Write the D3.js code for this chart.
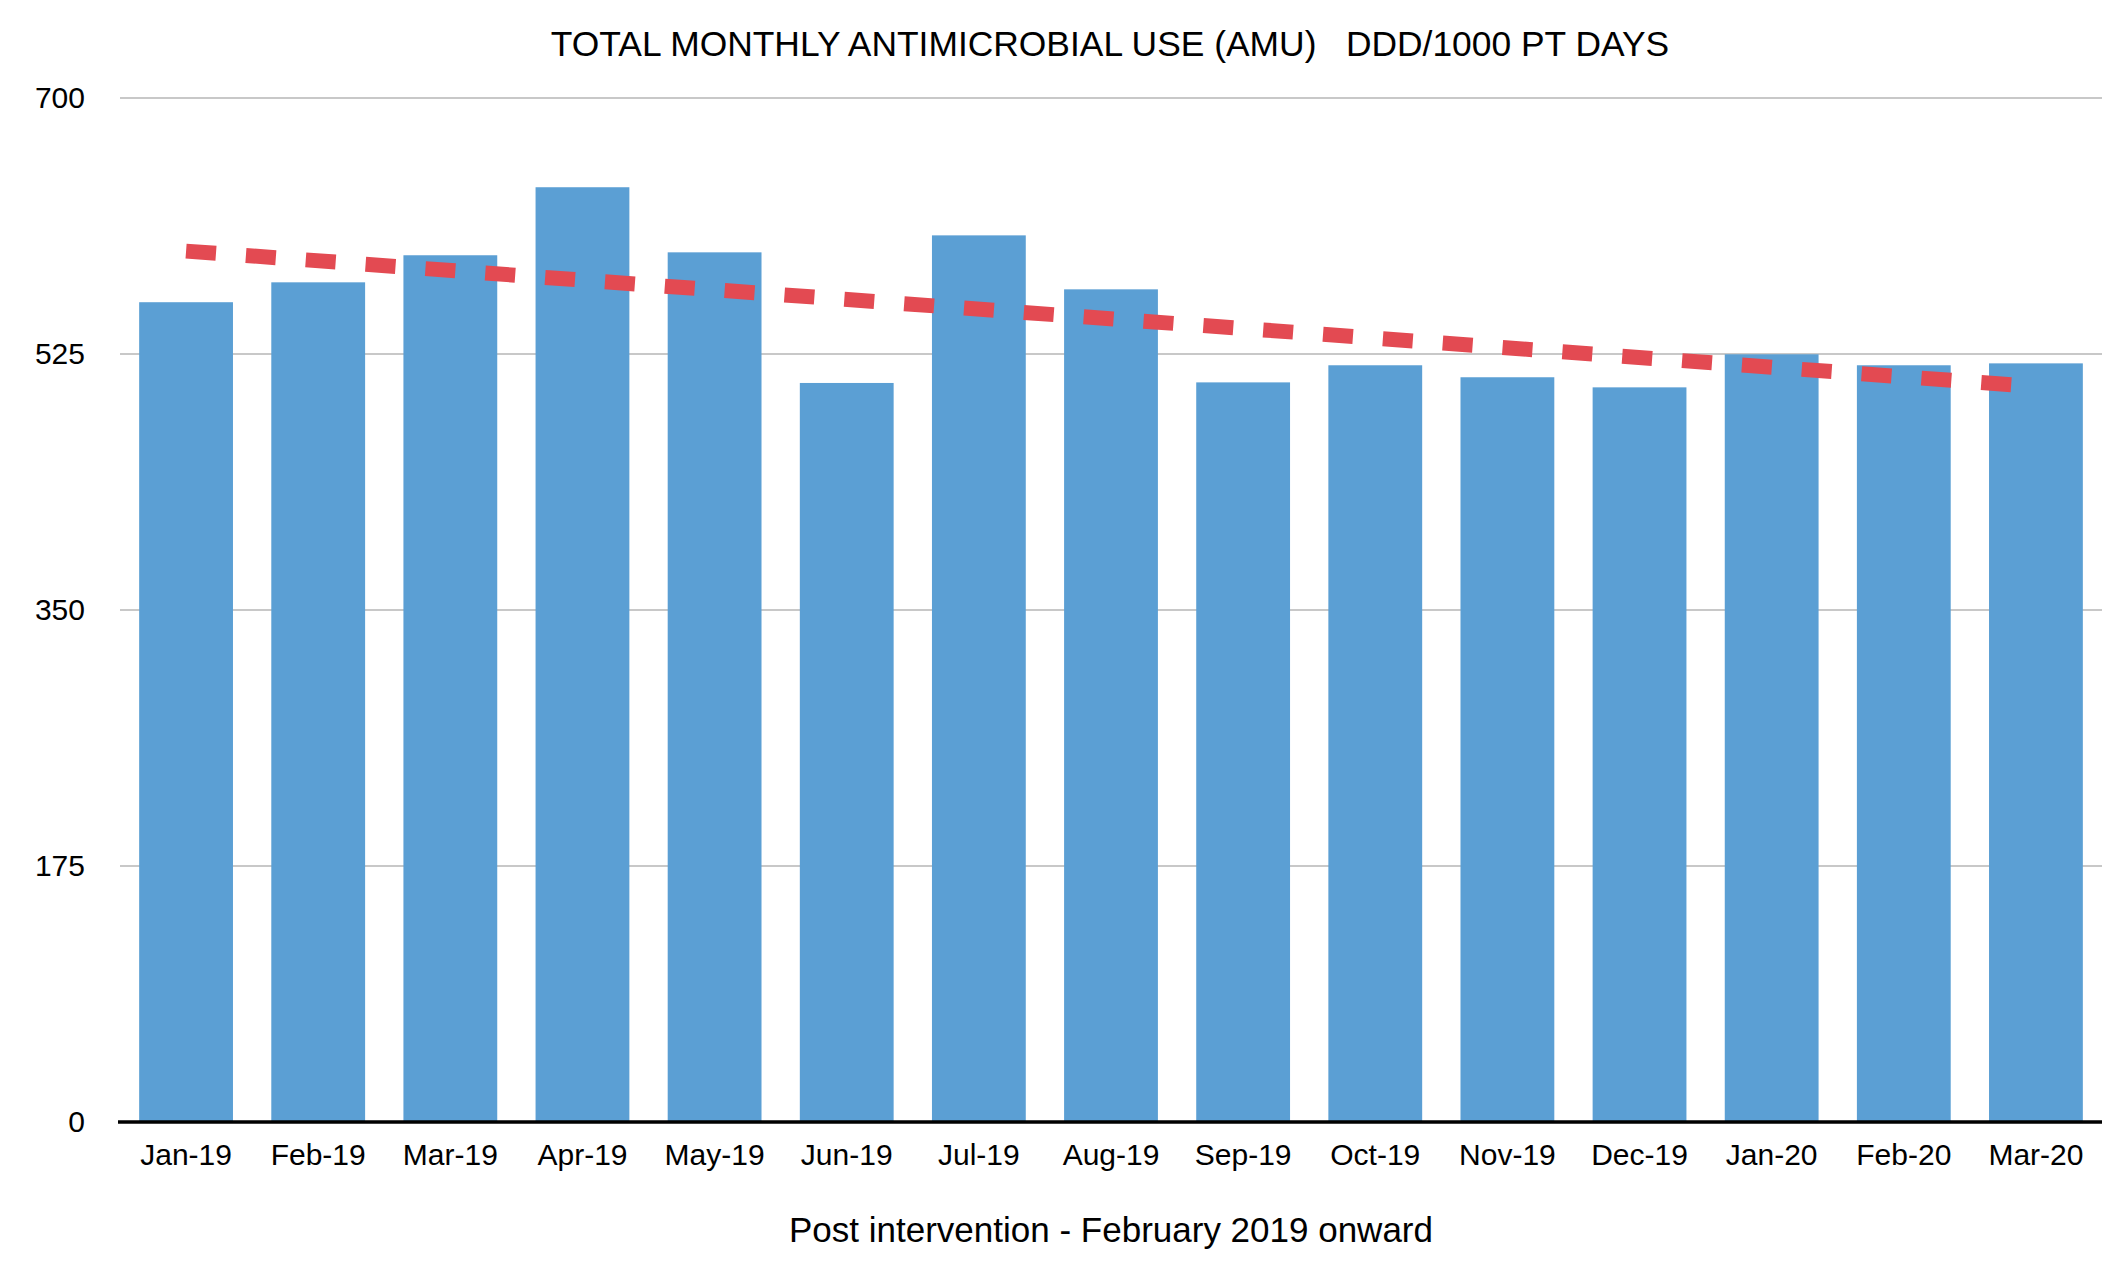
<!DOCTYPE html>
<html>
<head>
<meta charset="utf-8">
<script src="https://cdn.jsdelivr.net/npm/d3@7"></script>
<style>
  body { margin: 0; background: #fff; }
  text { font-family: "Liberation Sans", Arial, Helvetica, sans-serif; fill: #000; }
</style>
</head>
<body>
<script>
var months = ["Jan-19", "Feb-19", "Mar-19", "Apr-19", "May-19", "Jun-19", "Jul-19", "Aug-19",
  "Sep-19", "Oct-19", "Nov-19", "Dec-19", "Jan-20", "Feb-20", "Mar-20"];
var amu = [560.4, 574.0, 592.5, 639.0, 594.5, 505.2, 606.1, 569.2,
  505.6, 517.3, 509.1, 502.2, 524.8, 517.3, 518.6];
var yTicks = [0, 175, 350, 525, 700];
var title = "TOTAL MONTHLY ANTIMICROBIAL USE (AMU)   DDD/1000 PT DAYS";
var xTitle = "Post intervention - February 2019 onward";

var width = 2128, height = 1284;
var margin = { top: 98, right: 26, bottom: 162, left: 120 };

var svg = d3.select(document.body).append("svg")
  .attr("width", width)
  .attr("height", height);

var x = d3.scaleBand()
  .domain(months)
  .range([margin.left, width - margin.right])
  .paddingInner(0.29)
  .paddingOuter(0.145);

var y = d3.scaleLinear()
  .domain([0, 700])
  .range([height - margin.bottom, margin.top]);

// gridlines
svg.append("g")
  .selectAll("line")
  .data(yTicks.filter(function(d) { return d > 0; }))
  .enter().append("line")
  .attr("x1", margin.left)
  .attr("x2", width - margin.right)
  .attr("y1", function(d) { return y(d); })
  .attr("y2", function(d) { return y(d); })
  .attr("stroke", "#c8c8c8")
  .attr("stroke-width", 2);

// y axis labels
var yAxis = svg.append("g")
  .attr("transform", "translate(" + (margin.left - 35) + ",0)")
  .call(d3.axisLeft(y).tickValues(yTicks).tickSize(0).tickPadding(0));
yAxis.select(".domain").remove();
yAxis.selectAll("text")
  .attr("font-size", 30)
  .attr("font-family", "Liberation Sans, Arial, sans-serif")
  .attr("fill", "#000");

// bars
svg.append("g")
  .selectAll("rect")
  .data(months)
  .enter().append("rect")
  .attr("x", function(d) { return x(d); })
  .attr("width", x.bandwidth())
  .attr("y", function(d, i) { return y(amu[i]); })
  .attr("height", function(d, i) { return y(0) - y(amu[i]); })
  .attr("fill", "#5b9fd4");

// baseline + x labels
var xAxis = svg.append("g")
  .attr("transform", "translate(0," + y(0) + ")")
  .call(d3.axisBottom(x).tickSize(0).tickPadding(22));
xAxis.select(".domain")
  .attr("stroke", "#000")
  .attr("stroke-width", 3.5)
  .attr("d", "M" + (margin.left - 2) + ",0H" + (width - margin.right));
xAxis.selectAll("text")
  .attr("font-size", 30)
  .attr("font-family", "Liberation Sans, Arial, sans-serif")
  .attr("fill", "#000");

// linear trendline (least squares over the months)
var n = amu.length;
var mx = d3.mean(d3.range(n)), my = d3.mean(amu);
var sxy = d3.sum(amu, function(v, i) { return (i - mx) * (v - my); });
var sxx = d3.sum(d3.range(n), function(i) { return (i - mx) * (i - mx); });
var slope = sxy / sxx, icpt = my - slope * mx;

svg.append("line")
  .attr("x1", x(months[0]) + x.bandwidth() / 2)
  .attr("x2", x(months[n - 1]) + x.bandwidth() / 2)
  .attr("y1", y(icpt))
  .attr("y2", y(icpt + slope * (n - 1)))
  .attr("stroke", "#e34a52")
  .attr("stroke-width", 15)
  .attr("stroke-dasharray", "30,30");

// titles
svg.append("text")
  .attr("x", 1110)
  .attr("y", 56)
  .attr("text-anchor", "middle")
  .attr("font-size", 35.4)
  .style("white-space", "pre")
  .text(title);

svg.append("text")
  .attr("x", 1111)
  .attr("y", 1242)
  .attr("text-anchor", "middle")
  .attr("font-size", 35)
  .text(xTitle);
</script>
</body>
</html>
